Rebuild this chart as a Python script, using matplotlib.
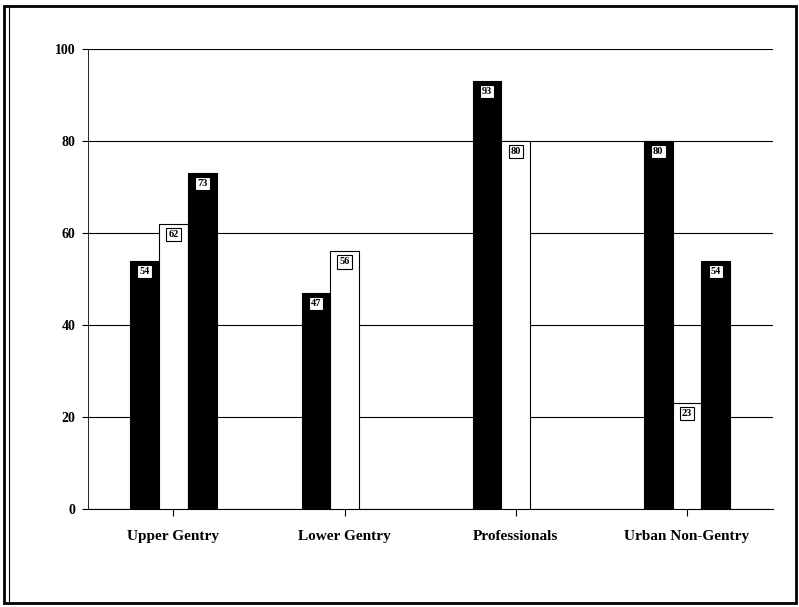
import numpy as np
import matplotlib.pyplot as plt
from matplotlib.patches import Rectangle

categories = ["Upper Gentry", "Lower Gentry", "Professionals", "Urban Non-Gentry"]
series_a = [54, 47, 93, 80]
series_b = [62, 56, 80, 23]
series_c = [73, np.nan, np.nan, 54]
yticks = [0, 20, 40, 60, 80, 100]

plt.rcParams['font.family'] = ['Liberation Serif', 'DejaVu Serif']
plt.rcParams['font.weight'] = 'bold'

fig = plt.figure(figsize=(7.99, 6.07), dpi=100)
ax = fig.add_axes([0.110, 0.1614, 0.857, 0.758])

x = np.arange(len(categories))
w = 0.168
colors = ['black', 'white', 'black']
for i, vals in enumerate([series_a, series_b, series_c]):
    pos = x + (i - 1) * w
    for xp, v in zip(pos, vals):
        if np.isnan(v):
            continue
        ax.bar(xp, v, w, color=colors[i], edgecolor='black', linewidth=0.8, zorder=3)
        ax.text(xp, v - 2.3, f"{v:g}", ha='center', va='center', fontsize=7.5,
                fontweight='bold', zorder=4,
                bbox=dict(boxstyle='square,pad=0.2', fc='white', ec='black', lw=0.8))

ax.set_xlim(-0.5, len(categories) - 0.5)
ax.set_ylim(0, 100)
ax.set_yticks(yticks)
ax.set_xticks(x)
ax.set_xticklabels(categories, fontsize=11, fontweight='bold')
ax.tick_params(axis='y', labelsize=10, length=4, width=0.8, pad=5)
ax.tick_params(axis='x', length=5, width=0.8, pad=10)
for lab in ax.get_yticklabels():
    lab.set_fontweight('bold')
ax.grid(axis='y', color='black', linewidth=0.8, zorder=1)
for s in ['top', 'right']:
    ax.spines[s].set_visible(False)
ax.spines['left'].set_linewidth(0.6)
ax.spines['bottom'].set_linewidth(0.8)

# outer frame
fig.patches.append(Rectangle((0.005, 0.006), 0.991, 0.984, transform=fig.transFigure,
                             fill=False, ec='black', lw=2.0))
fig.patches.append(Rectangle((0.011, 0.006), 0.0, 0.984, transform=fig.transFigure,
                             fill=False, ec='black', lw=0.8))

fig.savefig("out.png", dpi=100)
